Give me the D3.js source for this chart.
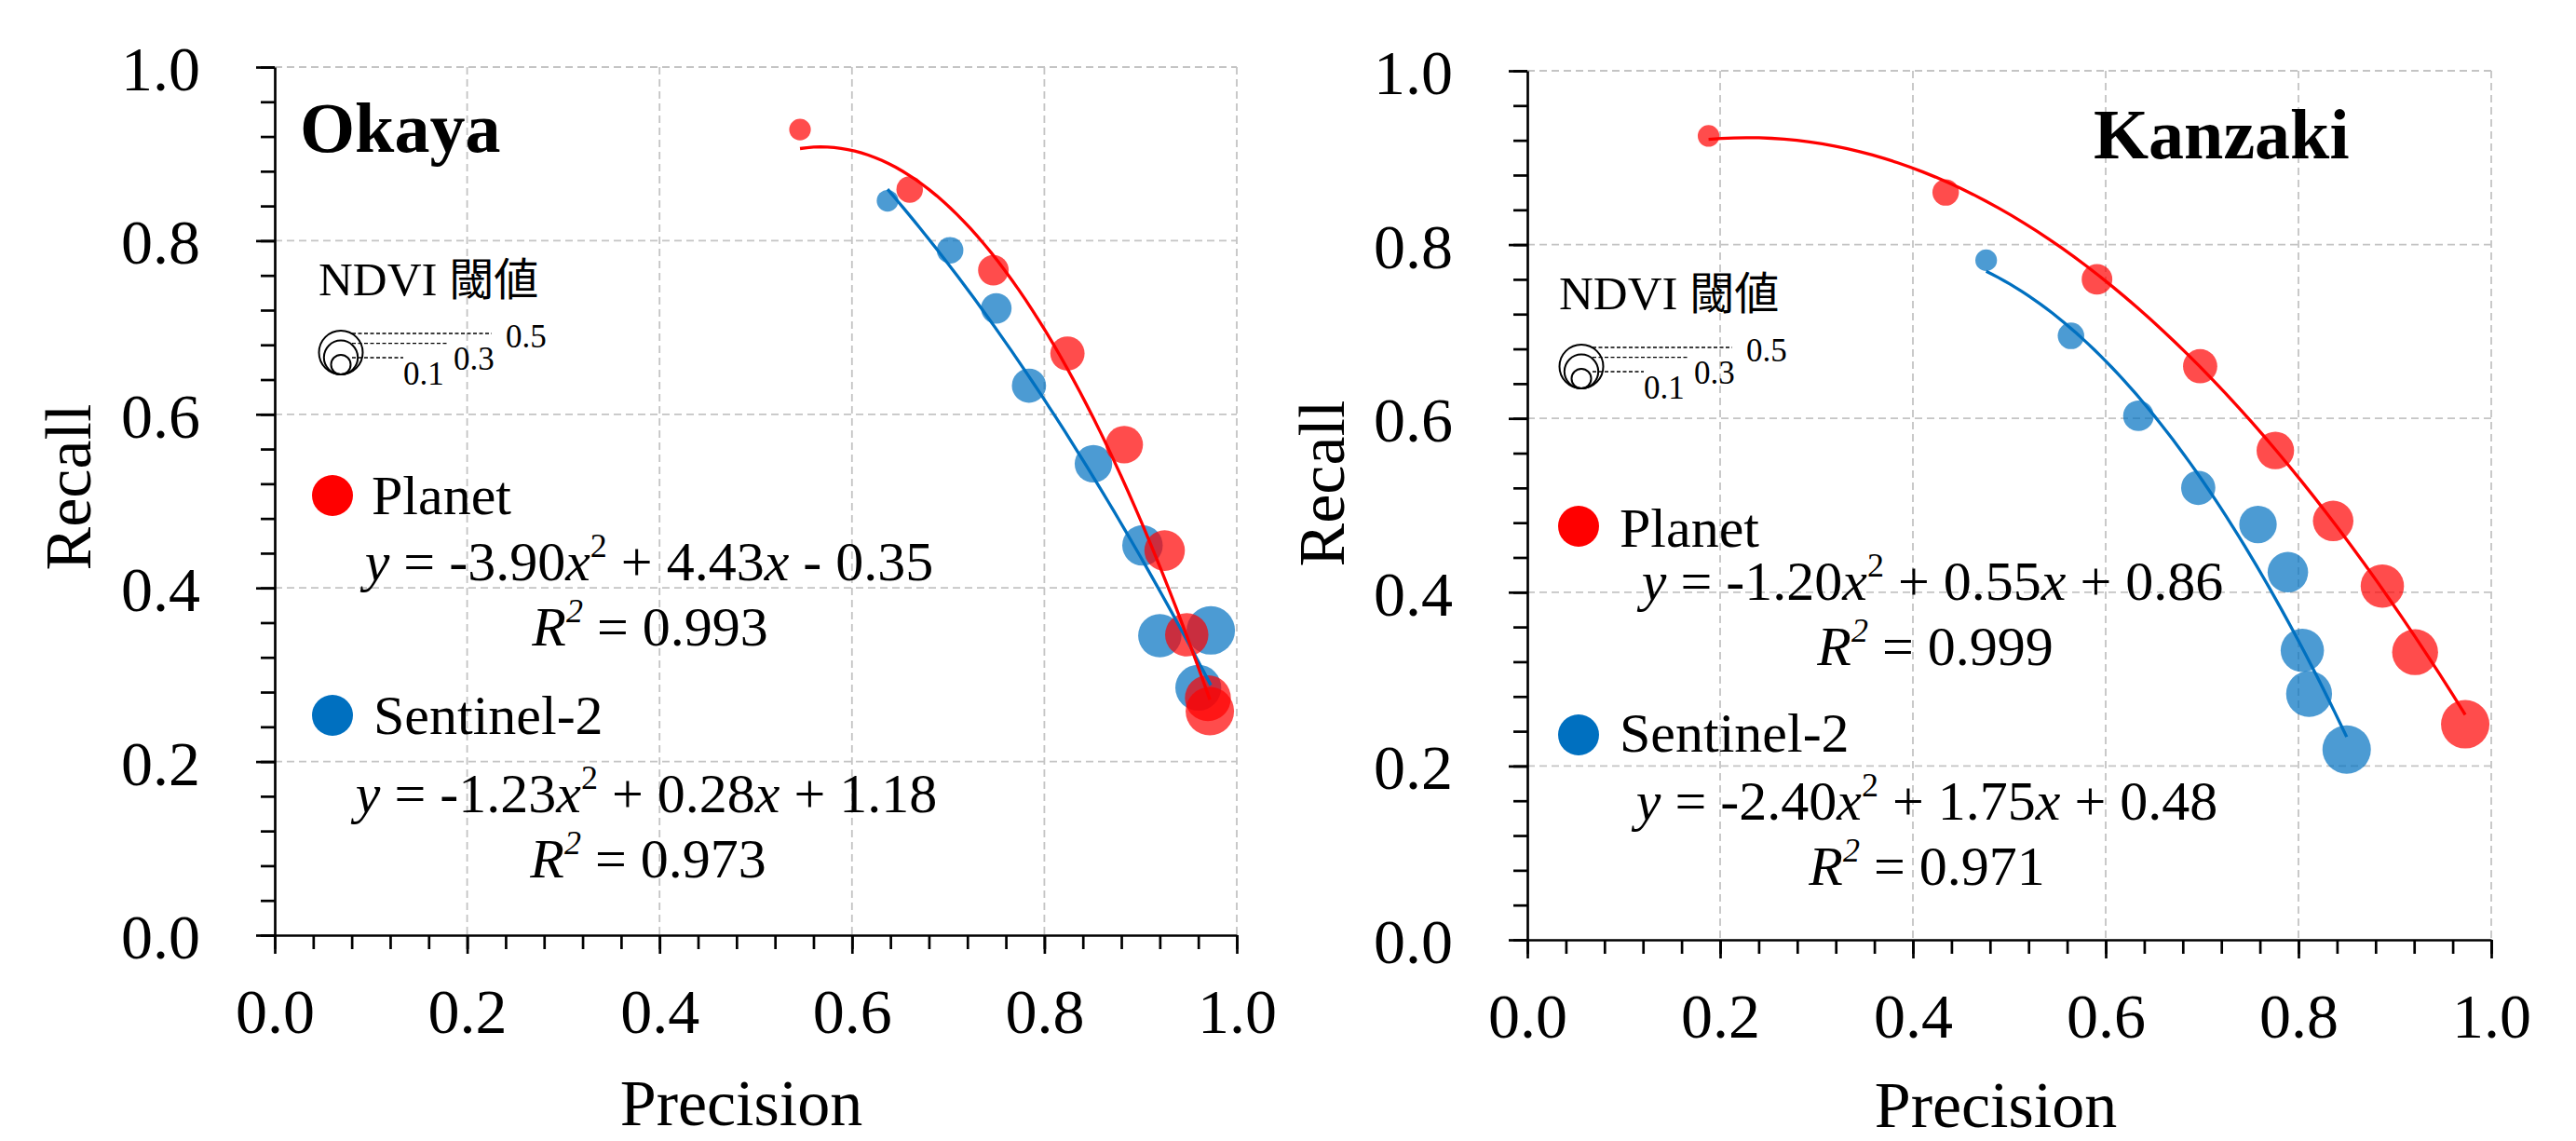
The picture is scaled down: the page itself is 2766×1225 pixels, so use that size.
<!DOCTYPE html>
<html>
<head>
<meta charset="utf-8">
<script src="https://cdn.jsdelivr.net/npm/d3@7"></script>
<style>
body { margin: 0; background: #fff; }
text { font-family: "Liberation Serif", "Times New Roman", serif; fill: #000; }
.grid line { stroke: #c4c4c4; stroke-width: 1.8; stroke-dasharray: 8,5; }
.axis path, .axis line { stroke: #000; stroke-width: 2.7; }
.axis text { font-size: 68px; font-family: "Liberation Serif", "Times New Roman", serif; }
.cjk { font-family: "Noto Sans CJK JP", sans-serif; }
</style>
</head>
<body>
<svg id="chart" width="2766" height="1225"></svg>
<script>
// NDVI threshold for each point (bubble size)
var thresholds = [0.1, 0.15, 0.2, 0.25, 0.3, 0.35, 0.4, 0.45, 0.5]

// Okaya
var okayaPlanetP = [0.546, 0.660, 0.747, 0.824, 0.883, 0.925, 0.948, 0.970, 0.972]
var okayaPlanetR = [0.928, 0.859, 0.766, 0.670, 0.565, 0.443, 0.346, 0.273, 0.258]
var okayaSentP   = [0.637, 0.702, 0.750, 0.784, 0.851, 0.902, 0.920, 0.960, 0.973]
var okayaSentR   = [0.846, 0.789, 0.722, 0.633, 0.543, 0.449, 0.345, 0.285, 0.351]

// Kanzaki
var kanzakiPlanetP = [0.188, 0.434, 0.591, 0.698, 0.776, 0.836, 0.887, 0.921, 0.973]
var kanzakiPlanetR = [0.925, 0.860, 0.760, 0.660, 0.563, 0.482, 0.407, 0.331, 0.248]
var kanzakiSentP   = [0.476, 0.564, 0.634, 0.696, 0.758, 0.789, 0.804, 0.811, 0.850]
var kanzakiSentR   = [0.782, 0.695, 0.603, 0.520, 0.478, 0.423, 0.333, 0.283, 0.219]

// quadratic trend lines (a, b, c) and R2, as printed on the chart
var okayaPlanetFit = [-3.90, 4.43, -0.35], okayaPlanetR2 = 0.993
var okayaSentFit = [-1.23, 0.28, 1.18], okayaSentR2 = 0.973
var kanzakiPlanetFit = [-1.20, 0.55, 0.86], kanzakiPlanetR2 = 0.999
var kanzakiSentFit = [-2.40, 1.75, 0.48], kanzakiSentR2 = 0.971

var majorTicks = [0, 0.2, 0.4, 0.6, 0.8, 1.0]
var minorTicks = d3.range(0, 26).map(function(i){ return i * 0.04 })
var sizeLegend = [0.5, 0.3, 0.1]
var seriesNames = ['Planet', 'Sentinel-2']
var colors = ['#ff0000', '#0070c0']

var panels = [
  {
    name: 'Okaya', x0: 295, x1: 1328, top: 72, bottom: 1004,
    planet: [okayaPlanetP, okayaPlanetR, okayaPlanetFit, okayaPlanetR2],
    sent: [okayaSentP, okayaSentR, okayaSentFit, okayaSentR2],
    title: [322, 163], recall: [97, 523], precision: [796, 1208],
    size: [366, 402],
    leg: [
      {m: [357, 532], l: [399, 552], eq: [697, 623], r2: [698, 693]},
      {m: [357, 768], l: [401, 788], eq: [694, 872], r2: [696, 942]}
    ]
  },
  {
    name: 'Kanzaki', x0: 1640, x1: 2675, top: 76, bottom: 1009,
    planet: [kanzakiPlanetP, kanzakiPlanetR, kanzakiPlanetFit, kanzakiPlanetR2],
    sent: [kanzakiSentP, kanzakiSentR, kanzakiSentFit, kanzakiSentR2],
    title: [2248, 170], recall: [1443, 519], precision: [2143, 1210],
    size: [1698, 417],
    leg: [
      {m: [1695, 565], l: [1739, 587], eq: [2075, 644], r2: [2078, 714]},
      {m: [1695, 789], l: [1739, 807], eq: [2069, 880], r2: [2069, 950]}
    ]
  }
]

var svg = d3.select('#chart')
var rScale = d3.scaleSqrt().domain([0, 0.5]).range([0, 26])
var rLegend = d3.scaleSqrt().domain([0, 0.5]).range([0, 23.5])
// plain hyphen for negatives, like the original labels
var fmt2 = function(v){ return (v < 0 ? '-' : '') + Math.abs(v).toFixed(2) }
var fmt3 = function(v){ return v.toFixed(3) }

panels.forEach(function(p){
  var x = d3.scaleLinear().domain([0, 1]).range([p.x0, p.x1])
  var y = d3.scaleLinear().domain([0, 1]).range([p.bottom, p.top])
  var g = svg.append('g')

  // grid
  var grid = g.append('g').attr('class', 'grid')
  grid.selectAll('line.v').data(majorTicks.slice(1)).enter().append('line')
    .attr('x1', x).attr('x2', x).attr('y1', p.top).attr('y2', p.bottom)
  grid.selectAll('line.h').data(majorTicks.slice(1)).enter().append('line')
    .attr('y1', y).attr('y2', y).attr('x1', p.x0).attr('x2', p.x1)

  // axes: minor then major
  g.append('g').attr('class', 'axis').attr('transform', 'translate(0,' + p.bottom + ')')
    .call(d3.axisBottom(x).tickValues(minorTicks).tickSize(15).tickFormat(''))
    .select('.domain').remove()
  g.append('g').attr('class', 'axis').attr('transform', 'translate(' + p.x0 + ',0)')
    .call(d3.axisLeft(y).tickValues(minorTicks).tickSize(15).tickFormat(''))
    .select('.domain').remove()

  var xa = g.append('g').attr('class', 'axis').attr('transform', 'translate(0,' + p.bottom + ')')
    .call(d3.axisBottom(x).tickValues(majorTicks).tickSize(20).tickSizeOuter(0).tickFormat(d3.format('.1f')))
  xa.selectAll('text').attr('y', 105).attr('dy', 0)
  var ya = g.append('g').attr('class', 'axis').attr('transform', 'translate(' + p.x0 + ',0)')
    .call(d3.axisLeft(y).tickValues(majorTicks).tickSize(20).tickSizeOuter(0).tickFormat(d3.format('.1f')))
  ya.selectAll('text').attr('x', -80).attr('dy', '0.36em')

  // axis titles
  g.append('text').attr('x', p.precision[0]).attr('y', p.precision[1])
    .attr('text-anchor', 'middle').style('font-size', '70px').text('Precision')
  g.append('text').attr('transform', 'translate(' + p.recall[0] + ',' + p.recall[1] + ') rotate(-90)')
    .attr('text-anchor', 'middle').style('font-size', '70px').text('Recall')

  // bubbles: sentinel first, planet on top
  var series = [p.sent, p.planet]
  var cols = [colors[1], colors[0]]
  series.forEach(function(s, si){
    var pts = s[0].map(function(v, i){ return {p: v, r: s[1][i], t: thresholds[i]} })
    g.append('g').selectAll('circle').data(pts).enter().append('circle')
      .attr('cx', function(d){ return x(d.p) })
      .attr('cy', function(d){ return y(d.r) })
      .attr('r', function(d){ return rScale(d.t) })
      .attr('fill', cols[si]).attr('fill-opacity', 0.7)
  })

  // trend lines
  var line = d3.line().x(function(d){ return x(d[0]) }).y(function(d){ return y(d[1]) })
  series.forEach(function(s, si){
    var lo = d3.min(s[0]), hi = d3.max(s[0]), c = s[2]
    var pts = d3.range(0, 61).map(function(i){
      var v = lo + (hi - lo) * i / 60
      return [v, c[0] * v * v + c[1] * v + c[2]]
    })
    g.append('path').attr('d', line(pts)).attr('fill', 'none')
      .attr('stroke', cols[si]).attr('stroke-width', 3.3)
  })

  // panel title
  g.append('text').attr('x', p.title[0]).attr('y', p.title[1])
    .style('font-size', '76px').style('font-weight', 'bold').text(p.name)

  // size legend
  var sl = g.append('g').attr('transform', 'translate(' + p.size[0] + ',' + p.size[1] + ')')
  var nd = sl.append('text').attr('x', -24).attr('y', -85).style('font-size', '51px')
  nd.append('tspan').text('NDVI ')
  nd.append('tspan').attr('class', 'cjk').style('font-size', '48px').text('閾値')
  var lineEnd = {0.5: 162, 0.3: 114, 0.1: 67}
  var lab = {0.5: [177, -29], 0.3: [121, -5], 0.1: [67, 11]}
  sizeLegend.forEach(function(v){
    var rr = rLegend(v)
    sl.append('circle').attr('cx', 0).attr('cy', -rr).attr('r', rr)
      .attr('fill', 'none').attr('stroke', '#000').attr('stroke-width', 2)
    sl.append('line').attr('x1', 12).attr('x2', lineEnd[v])
      .attr('y1', -2 * rr + 3).attr('y2', -2 * rr + 3)
      .attr('stroke', '#000').attr('stroke-width', 1.4).attr('stroke-dasharray', '4,2.5')
    sl.append('text').attr('x', lab[v][0]).attr('y', lab[v][1])
      .style('font-size', '35px').text(d3.format('.1f')(v))
  })

  // series legend with equations
  ;[p.planet, p.sent].forEach(function(s, si){
    var L = p.leg[si], c = s[2]
    g.append('circle').attr('cx', L.m[0]).attr('cy', L.m[1]).attr('r', 22).attr('fill', colors[si])
    g.append('text').attr('x', L.l[0]).attr('y', L.l[1]).style('font-size', '60px').text(seriesNames[si])

    var eq = g.append('text').attr('x', L.eq[0]).attr('y', L.eq[1])
      .attr('text-anchor', 'middle').style('font-size', '60px')
    eq.append('tspan').style('font-style', 'italic').text('y')
    eq.append('tspan').text(' = ' + fmt2(c[0]))
    eq.append('tspan').style('font-style', 'italic').text('x')
    eq.append('tspan').attr('dy', -25).style('font-size', '36px').text('2')
    eq.append('tspan').attr('dy', 25).text(' ' + (c[1] < 0 ? '-' : '+') + ' ' + fmt2(Math.abs(c[1])))
    eq.append('tspan').style('font-style', 'italic').text('x')
    eq.append('tspan').text(' ' + (c[2] < 0 ? '-' : '+') + ' ' + fmt2(Math.abs(c[2])))

    var r2 = g.append('text').attr('x', L.r2[0]).attr('y', L.r2[1])
      .attr('text-anchor', 'middle').style('font-size', '60px')
    r2.append('tspan').style('font-style', 'italic').text('R')
    r2.append('tspan').attr('dy', -25).style('font-size', '36px').style('font-style', 'italic').text('2')
    r2.append('tspan').attr('dy', 25).text(' = ' + fmt3(s[3]))
  })
})
</script>
</body>
</html>
